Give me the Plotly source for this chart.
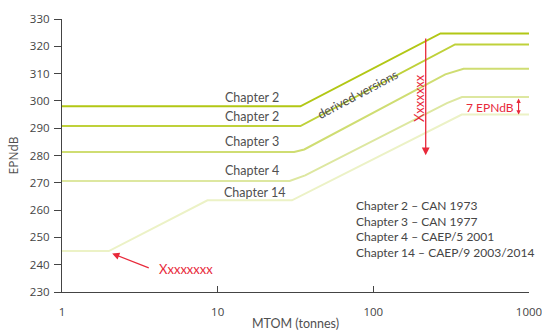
import math
import plotly.graph_objects as go

# Noise limit lines: breakpoints in MTOM (tonnes) and EPNdB
ch2a_mtom = [1, 34, 270, 1000]
ch2a_epndb = [298, 298, 324.7, 324.7]

ch2b_mtom = [1, 34, 335, 1000]
ch2b_epndb = [290.8, 290.8, 320.7, 320.7]

ch3_mtom = [1, 31, 36, 290, 380, 1000]
ch3_epndb = [281.3, 281.3, 282.2, 309.7, 311.8, 311.8]

ch4_mtom = [1, 29, 36.5, 297, 371, 1000]
ch4_epndb = [270.7, 270.7, 272.7, 299.2, 301.4, 301.4]

ch14_mtom = [1, 2, 8.6, 30, 370, 1000]
ch14_epndb = [245, 245, 263.6, 263.6, 295, 295]

series = [
    ("Chapter 2", ch2a_mtom, ch2a_epndb, "#b2c715"),
    ("Chapter 2", ch2b_mtom, ch2b_epndb, "#bfd13a"),
    ("Chapter 3", ch3_mtom, ch3_epndb, "#cfdd72"),
    ("Chapter 4", ch4_mtom, ch4_epndb, "#dde7a0"),
    ("Chapter 14", ch14_mtom, ch14_epndb, "#ecf2c6"),
]

# line label positions (MTOM, EPNdB)
label_mtom = [16.7, 16.7, 16.7, 16.6, 17.3]
label_epndb = [301.4, 294.4, 285.0, 274.6, 266.4]

legend_lines = [
    "Chapter 2 \u2013 CAN 1973",
    "Chapter 3 \u2013 CAN 1977",
    "Chapter 4 \u2013 CAEP/5 2001",
    "Chapter 14 \u2013 CAEP/9 2003/2014",
]

y_ticks = list(range(230, 331, 10))
x_ticks = [1, 10, 100, 1000]

TEXT = "#505050"
AXIS = "#444444"
RED = "#e8293a"
LABEL_FONT = "Lato, Open Sans, sans-serif"

fig = go.Figure()
for name, xs, ys, col in series:
    fig.add_trace(go.Scatter(x=xs, y=ys, mode="lines", name=name,
                             line=dict(color=col, width=2),
                             hoverinfo="skip", showlegend=False))

ann = []
for (name, *_), lx, ly in zip(series, label_mtom, label_epndb):
    ann.append(dict(x=math.log10(lx), y=ly, text=name, showarrow=False,
                    font=dict(family=LABEL_FONT, size=12.5, color=TEXT),
                    xanchor="center", yanchor="middle"))

# rotated label along the derived-version lines
ann.append(dict(x=math.log10(79), y=302.4, text="derived versions",
                showarrow=False, textangle=-28,
                font=dict(family=LABEL_FONT, size=12.5, color=TEXT)))

# vertical red arrow with its rotated note
ann.append(dict(x=math.log10(217), y=280.1, ax=math.log10(217), ay=323.4,
                xref="x", yref="y", axref="x", ayref="y", text="",
                showarrow=True, arrowhead=2, arrowsize=1.2, arrowwidth=1.3,
                arrowcolor=RED))
ann.append(dict(x=math.log10(197), y=301.1, text="Xxxxxxx", showarrow=False,
                textangle=-90,
                font=dict(family=LABEL_FONT, size=13, color=RED)))

# 7 EPNdB margin between Chapter 4 and Chapter 14
ann.append(dict(x=math.log10(563), y=297.6, text="7 EPNdB", showarrow=False,
                font=dict(family=LABEL_FONT, size=12, color=RED)))
ann.append(dict(x=math.log10(857), y=295.0, ax=math.log10(857), ay=301.4,
                xref="x", yref="y", axref="x", ayref="y", text="",
                showarrow=True, arrowhead=2, startarrowhead=2, arrowside="end+start",
                arrowsize=0.8, startarrowsize=0.8, arrowwidth=1.1, arrowcolor=RED))

# bottom-left note arrow
ann.append(dict(x=math.log10(2.1), y=244.1, ax=math.log10(3.69), ay=238.6,
                xref="x", yref="y", axref="x", ayref="y", text="",
                showarrow=True, arrowhead=2, arrowsize=1.2, arrowwidth=1.2,
                arrowcolor=RED))
ann.append(dict(x=math.log10(4.09), y=238.6, text="Xxxxxxxx", showarrow=False,
                xanchor="left", yanchor="middle",
                font=dict(family=LABEL_FONT, size=13, color=RED)))

# standards key
ann.append(dict(x=math.log10(75.5), y=265.0, text="<br>".join(legend_lines),
                showarrow=False, xanchor="left", yanchor="top", align="left",
                font=dict(family=LABEL_FONT, size=12, color="#454545")))

fig.update_layout(
    width=542, height=331,
    margin=dict(l=62, r=13, t=19, b=39),
    paper_bgcolor="white", plot_bgcolor="white",
    font=dict(family="Open Sans, sans-serif", size=11.5, color=AXIS),
    annotations=ann,
    xaxis=dict(type="log", range=[0, 3], tickvals=x_ticks,
               ticktext=[str(v) for v in x_ticks], automargin=False,
               ticklabeloverflow="allow",
               ticks="inside", ticklen=6, tickcolor=AXIS, tickwidth=1,
               showline=True, linecolor=AXIS, linewidth=1.2,
               showgrid=False, zeroline=False, ticklabelstandoff=9,
               title=dict(text="MTOM (tonnes)", standoff=3,
                          font=dict(family=LABEL_FONT, size=12.5, color=TEXT))),
    yaxis=dict(range=[230, 330], tickvals=y_ticks, automargin=False,
               ticklabeloverflow="allow",
               ticks="outside", ticklen=7, tickcolor=AXIS, tickwidth=1,
               showline=True, linecolor=AXIS, linewidth=1.2,
               showgrid=False, zeroline=False, ticklabelstandoff=2,
               title=dict(text="EPNdB", standoff=8,
                          font=dict(family="Open Sans, sans-serif", size=12, color=TEXT))),
)

fig.write_html("out.html")
